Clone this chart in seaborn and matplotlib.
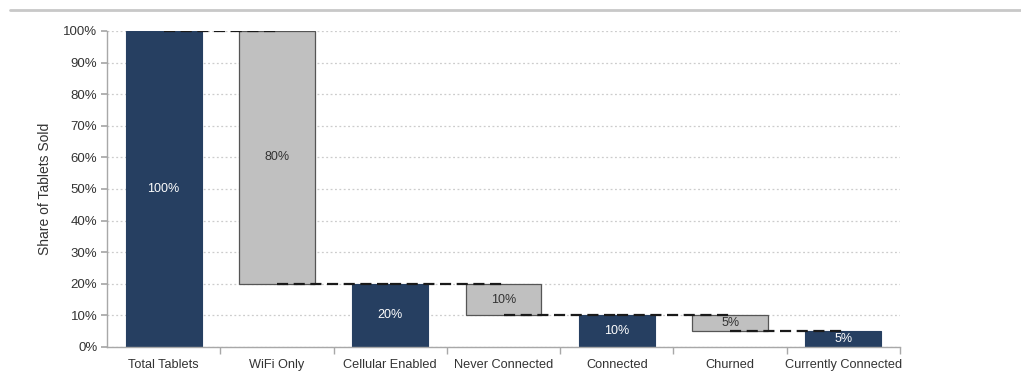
import numpy as np
import pandas as pd
import matplotlib
matplotlib.use("Agg")
import matplotlib.pyplot as plt
from matplotlib.lines import Line2D
from matplotlib.ticker import FixedLocator
import seaborn as sns

# Waterfall steps: share of tablets sold (%)
categories = ["Total Tablets", "WiFi Only", "Cellular Enabled", "Never Connected",
              "Connected", "Churned", "Currently Connected"]
totals_names = ["Total Tablets", "Cellular Enabled", "Connected", "Currently Connected"]
totals_values = [100, 20, 10, 5]
steps_names = ["WiFi Only", "Never Connected", "Churned"]
steps_values = [80, 10, 5]
steps_bottoms = [20, 10, 5]
# running level after each category, used for the dashed connectors
levels = [100, 20, 20, 10, 10, 5]
yticks = list(range(0, 101, 10))

NAVY = "#263F61"
GREY = "#C0C0C0"
TEXT = "#333333"
AXIS = "#A8A8A8"

sns.set_theme(style="white")
plt.rcParams["font.family"] = ["Liberation Sans", "DejaVu Sans"]

fig = plt.figure(figsize=(10.21, 3.74), dpi=100)
ax = fig.add_axes([0.1048, 0.0722, 0.7767, 0.845])

totals_df = pd.DataFrame({"category": totals_names, "value": totals_values})
steps_df = pd.DataFrame({"category": steps_names, "value": steps_values})

width = 0.67
sns.barplot(data=totals_df, x="category", y="value", order=categories,
            color=NAVY, saturation=1, width=width, errorbar=None,
            edgecolor=NAVY, linewidth=0.8, ax=ax, zorder=2)
sns.barplot(data=steps_df, x="category", y="value", order=categories,
            color=GREY, saturation=1, width=width, errorbar=None,
            bottom=steps_bottoms, edgecolor="#555555", linewidth=0.9,
            ax=ax, zorder=2)

# value labels inside bars
ax.bar_label(ax.containers[0], labels=[f"{v}%" for v in totals_values],
             label_type="center", color="white", fontsize=9)
ax.bar_label(ax.containers[1], labels=[f"{v}%" for v in steps_values],
             label_type="center", color="#333333", fontsize=9)

# dashed connectors between consecutive bars
for i, lvl in enumerate(levels):
    ax.plot([i, i + 1], [lvl, lvl], color="#1A1A1A", lw=1.6,
            linestyle=(0, (5, 2.5)), zorder=3, solid_capstyle="butt")

ax.set_xlim(-0.5, len(categories) - 0.5)
ax.set_ylim(0, 100)
ax.set_yticks(yticks)
ax.set_yticklabels([f"{t}%" for t in yticks])
ax.yaxis.grid(True, color="#CCCCCC", linestyle=(0, (1.5, 2)), linewidth=0.9)
ax.set_axisbelow(True)

ax.set_xlabel("")
ax.set_ylabel("Share of Tablets Sold", fontsize=10, color=TEXT, labelpad=8)

for side in ["top", "right"]:
    ax.spines[side].set_visible(False)
for side in ["left", "bottom"]:
    ax.spines[side].set_color(AXIS)
    ax.spines[side].set_linewidth(1.0)

ax.tick_params(axis="x", which="major", length=0, pad=9, labelsize=9.2,
               labelcolor=TEXT)
ax.xaxis.set_minor_locator(FixedLocator(np.arange(0.5, len(categories), 1.0)))
ax.tick_params(axis="x", which="minor", length=5, color=AXIS, direction="out",
               bottom=True)
ax.tick_params(axis="y", length=4, color=AXIS, labelsize=9.5, labelcolor=TEXT,
               left=True, pad=3)

# thin rule across the top of the figure
fig.add_artist(Line2D([0.01, 1.0], [0.973, 0.973], color="#C8C8C8", lw=2,
                      transform=fig.transFigure))

fig.savefig("out.png", dpi=100)
